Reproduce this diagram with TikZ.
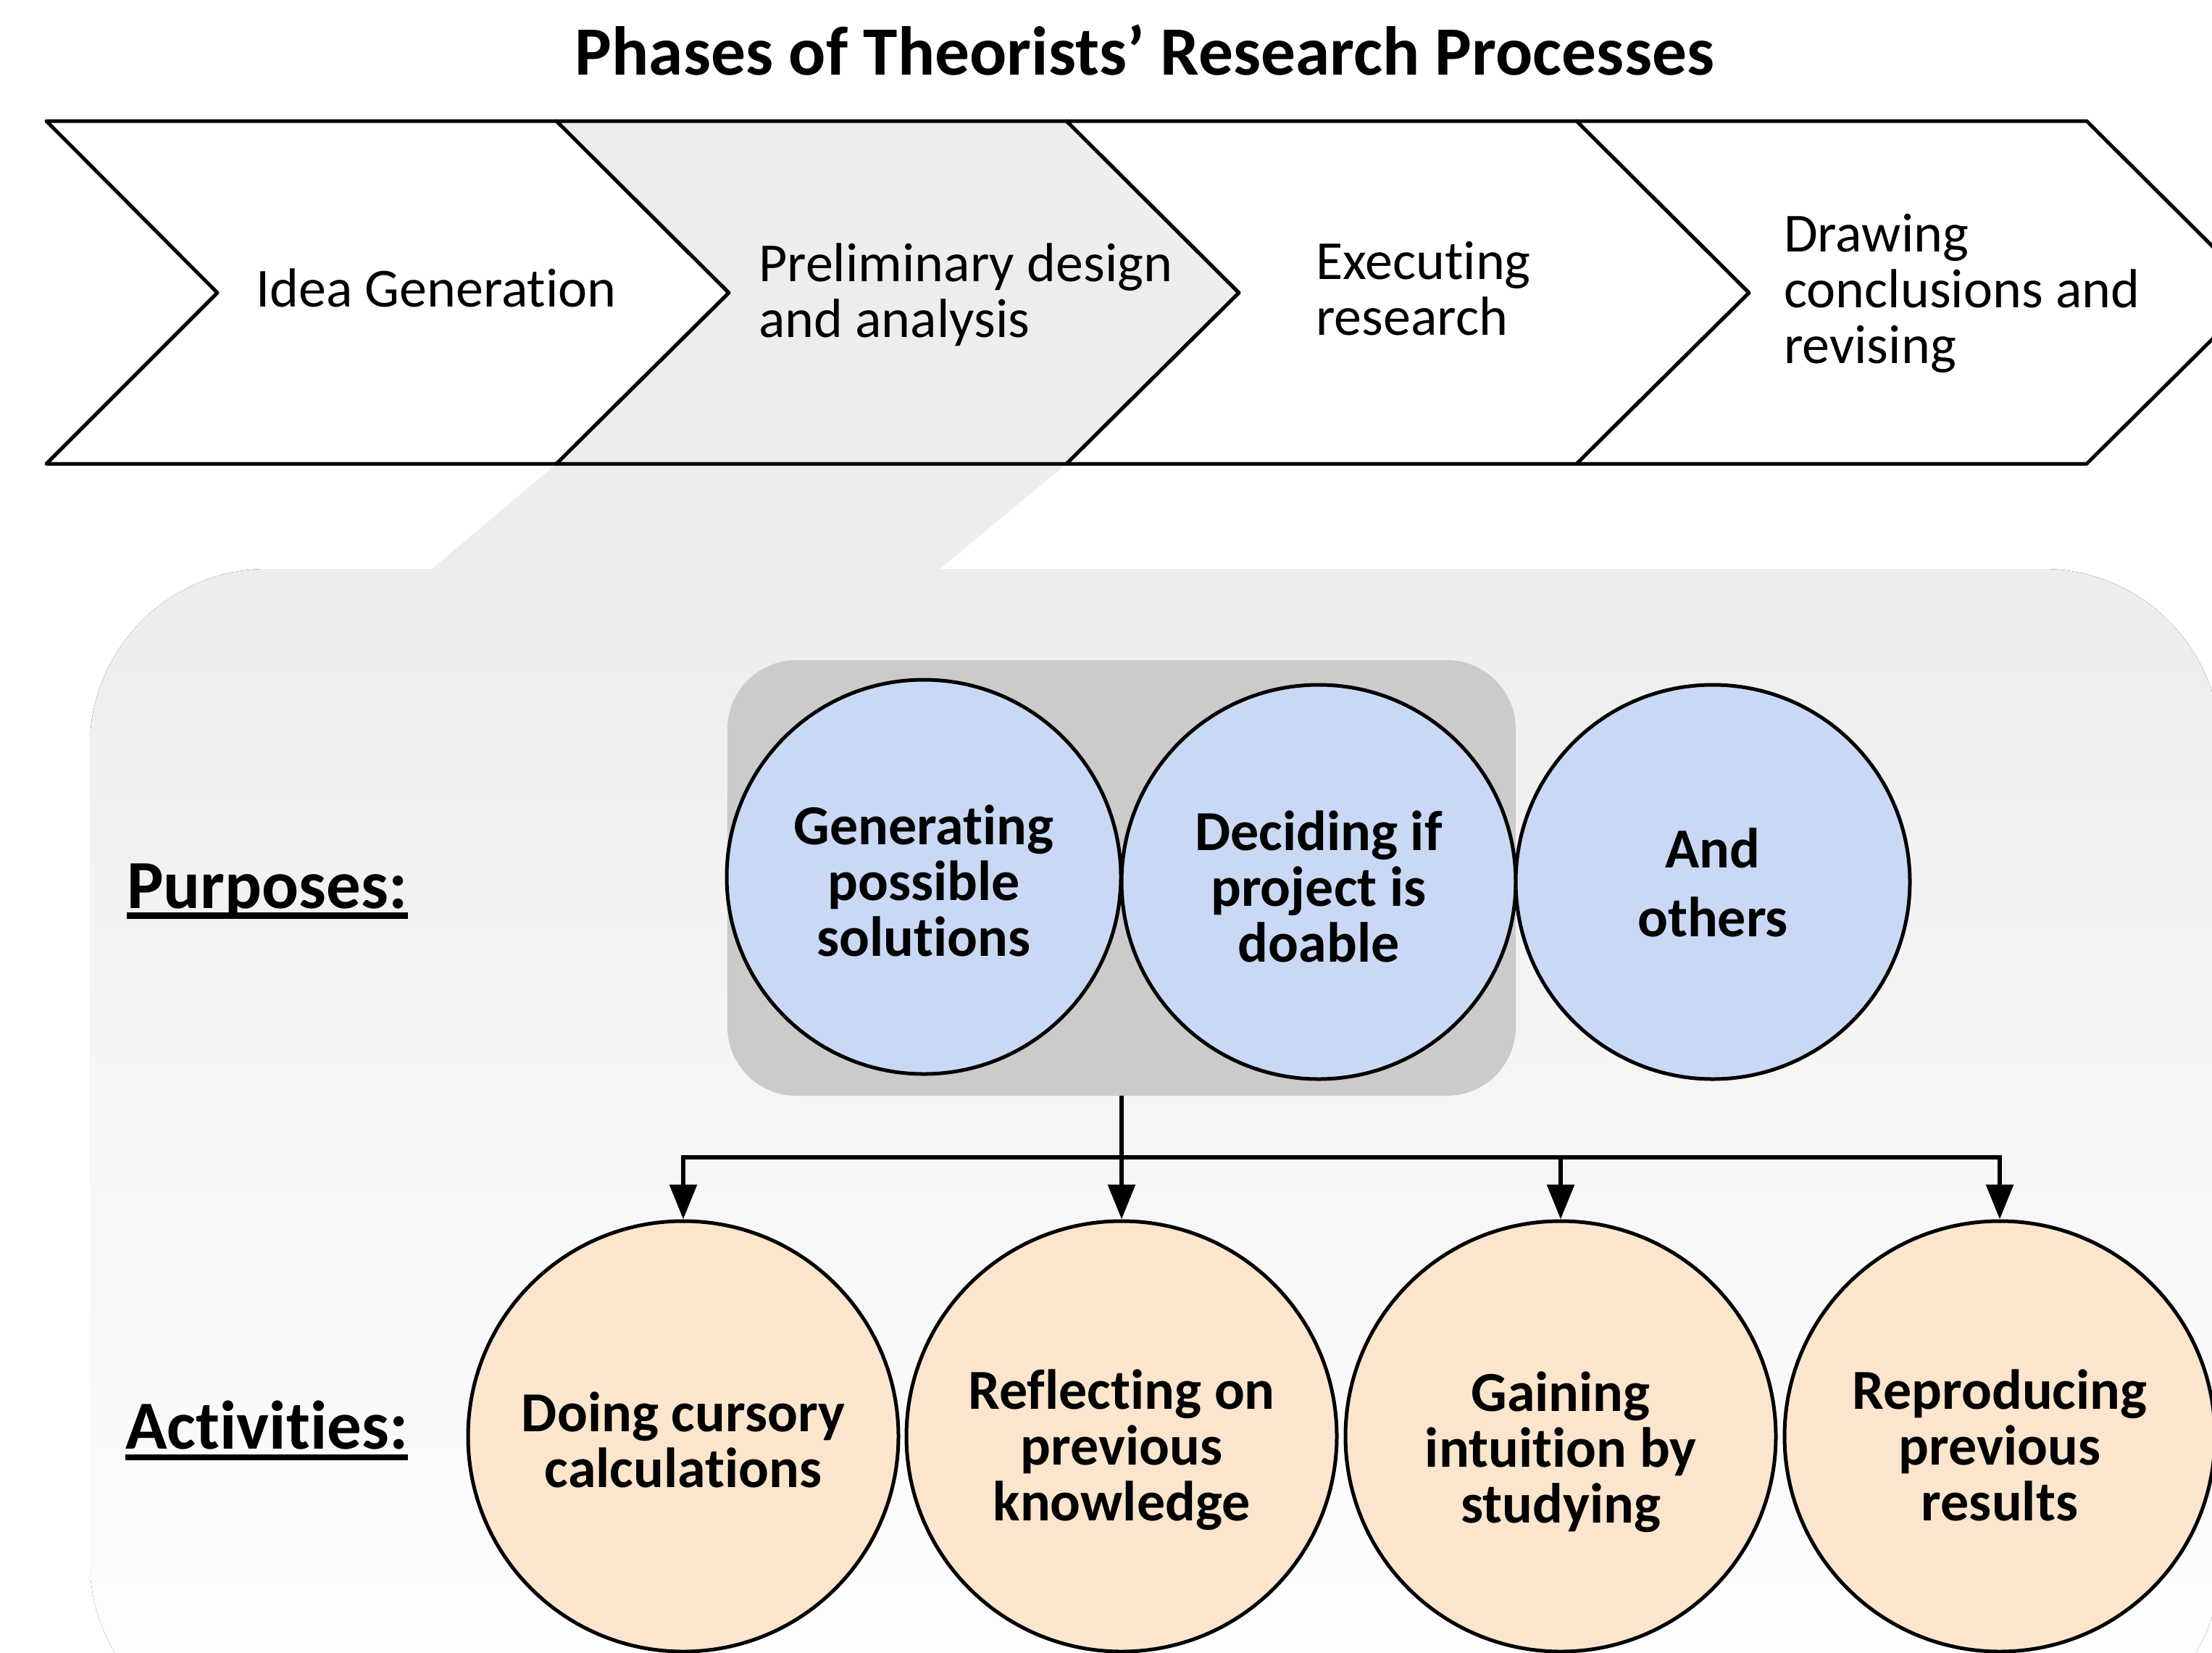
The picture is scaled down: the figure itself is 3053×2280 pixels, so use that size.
\documentclass[tikz,border=0pt]{standalone}
\usepackage{fontspec}
\setmainfont{Carlito}[Ligatures=CommonOff]
\usetikzlibrary{arrows.meta}

\definecolor{phasegray}{HTML}{EDEDED}
\definecolor{groupgray}{HTML}{CBCBCB}
\definecolor{purposeblue}{HTML}{C9D9F5}
\definecolor{activitypeach}{HTML}{FBE5CD}

% stacks of lines whose baseline is the first line's baseline
\newcommand\leftlines[1]{\vtop{\halign{##\hfil\cr#1\crcr}}}
\newcommand\midlines[1]{\vtop{\halign{\hfil##\hfil\cr#1\crcr}}}
% keeps "t" and "i" as separate glyphs
\newcommand\tsep{t\kern0pt i}

\tikzset{
  chevron/.style={draw=black, line width=5pt, line join=round},
  phasetext/.style={anchor=base west, inner sep=0pt, font=\fontsize{76}{77}\selectfont},
  bubble/.style={circle, draw=black, line width=5pt, inner sep=0pt},
  purpose/.style={bubble, fill=purposeblue, minimum size=544pt},
  activity/.style={bubble, fill=activitypeach, minimum size=594pt},
  bubbletext/.style={anchor=base, inner sep=0pt, font=\fontsize{78}{77}\selectfont\bfseries},
  rowlabel/.style={anchor=base west, inner sep=0pt, font=\fontsize{95}{97}\selectfont\bfseries},
  link/.style={line width=6pt},
  drop/.style={link, -{Triangle[length=48pt,width=37pt]}},
}

\begin{document}
\begin{tikzpicture}[x=1pt, y=-1pt]
\useasboundingbox (0,0) rectangle (3053,2280);
\clip (0,0) rectangle (3053,2280);

% zoomed-in panel for the second phase
\fill[top color=phasegray, bottom color=white, rounded corners=245pt]
  (124,785) rectangle (3065,2400);
\fill[phasegray] (768,640) -- (1472,640) -- (1296,786) -- (595,786) -- cycle;

% phase chevrons
\draw[chevron, fill=white]
  (64,167) -- ++(704,0) -- ++(238,237) -- ++(-238,236) -- ++(-704,0) -- ++(236,-236) -- cycle;
\draw[chevron, fill=phasegray]
  (768,167) -- ++(704,0) -- ++(238,237) -- ++(-238,236) -- ++(-704,0) -- ++(238,-236) -- cycle;
\draw[chevron, fill=white]
  (1472,167) -- ++(704,0) -- ++(238,237) -- ++(-238,236) -- ++(-704,0) -- ++(238,-236) -- cycle;
\draw[chevron, fill=white]
  (2176,167) -- ++(704,0) -- ++(238,237) -- ++(-238,236) -- ++(-704,0) -- ++(238,-236) -- cycle;

\node (title) [anchor=base, inner sep=0pt, font=\fontsize{95.5}{97}\selectfont\bfseries]
  at (1580,104) {Phases of Theorists’ Research Processes};

\node (ph1) [phasetext] at (353,423) {Idea Genera\tsep on};
\node (ph2) [phasetext] at (1047,388) {\leftlines{Preliminary design\cr and analysis}};
\node (ph3) [phasetext] at (1816,385) {\leftlines{Executing\cr research}};
\node (ph4) [phasetext] at (2462,347) {\leftlines{Drawing\cr conclusions and\cr revising}};

% purposes
\node (grp) [fill=groupgray, rounded corners=95pt, minimum width=1088pt,
             minimum height=601pt, inner sep=0pt] at (1548,1211.5) {};
\node (p1) [purpose] at (1275,1210) {};
\node (p2) [purpose] at (1820,1217) {};
\node (p3) [purpose] at (2364,1217) {};
\node (p1t) [bubbletext] at (1275,1165) {\midlines{Genera\tsep ng\cr possible\cr solu\tsep ons}};
\node (p2t) [bubbletext] at (1820,1173) {\midlines{Deciding if\cr project is\cr doable}};
\node (p3t) [bubbletext, font=\fontsize{78}{95}\selectfont\bfseries]
  at (2364,1197) {\midlines{And\cr others}};

\node (lblp) [rowlabel] at (175,1253) {Purposes:};
\fill ([yshift=-6pt]lblp.base west) rectangle ([yshift=-15pt]lblp.base east);
\node (lbla) [rowlabel] at (173,1999) {Ac\tsep vi\tsep es:};
\fill ([yshift=-8pt]lbla.base west) rectangle ([yshift=-16pt]lbla.base east);

% activities
\node (a1) [activity] at (943,1982) {};
\node (a2) [activity] at (1548,1982) {};
\node (a3) [activity] at (2154,1982) {};
\node (a4) [activity] at (2760,1982) {};
\node (a1t) [bubbletext] at (943,1975) {\midlines{Doing cursory\cr calcula\tsep ons}};
\node (a2t) [bubbletext] at (1548,1944) {\midlines{Reflecting on\cr previous\cr knowledge}};
\node (a3t) [bubbletext] at (2154,1947) {\midlines{Gaining\cr intui\tsep on by\cr studying}};
\node (a4t) [bubbletext] at (2760,1944) {\midlines{Reproducing\cr previous\cr results}};

% connectors
\coordinate (bar) at (1548,1597);
\draw[link] (grp.south) -- (bar);
\draw[link, line cap=rect] (a1.north |- bar) -- (a4.north |- bar);
\draw[drop] (a1.north |- bar) -- (a1.north);
\draw[drop] (a2.north |- bar) -- (a2.north);
\draw[drop] (a3.north |- bar) -- (a3.north);
\draw[drop] (a4.north |- bar) -- (a4.north);
\end{tikzpicture}
\end{document}
